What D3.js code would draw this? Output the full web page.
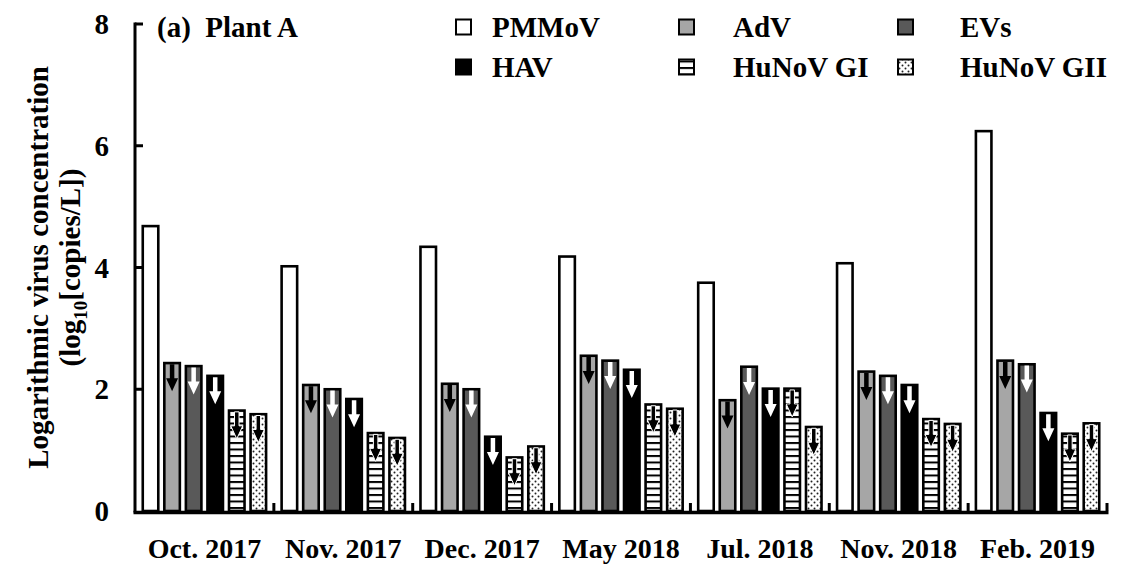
<!DOCTYPE html>
<html>
<head>
<meta charset="utf-8">
<script src="https://cdn.jsdelivr.net/npm/d3@7"></script>
<style>
  body { margin: 0; background: #fff; }
  text { font-family: "Liberation Serif", "Times New Roman", serif; font-weight: bold; fill: #000; }
</style>
</head>
<body>
<div id="chart"></div>
<script>
const categories = ['Oct. 2017', 'Nov. 2017', 'Dec. 2017', 'May 2018', 'Jul. 2018', 'Nov. 2018', 'Feb. 2019'];
const seriesNames = ['PMMoV', 'AdV', 'EVs', 'HAV', 'HuNoV GI', 'HuNoV GII'];
const pmmov = [4.68, 4.02, 4.34, 4.18, 3.75, 4.07, 6.24];
const adv = [2.43, 2.07, 2.09, 2.55, 1.82, 2.29, 2.47];
const evs = [2.38, 2.00, 2.00, 2.47, 2.37, 2.22, 2.41];
const hav = [2.22, 1.84, 1.22, 2.32, 2.01, 2.07, 1.61];
const hunovGI = [1.65, 1.28, 0.88, 1.75, 2.01, 1.51, 1.27];
const hunovGII = [1.59, 1.20, 1.06, 1.68, 1.38, 1.43, 1.44];
const yTicks = [0, 2, 4, 6, 8];
// series with a "below detection" arrow on top
const withArrow = [false, true, true, true, true, true];

const seriesValues = [pmmov, adv, evs, hav, hunovGI, hunovGII];

const width = 1123, height = 566;
const svg = d3.select('#chart').append('svg')
  .attr('width', width)
  .attr('height', height);

const defs = svg.append('defs');
const stripes = defs.append('pattern')
  .attr('id', 'stripes')
  .attr('patternUnits', 'userSpaceOnUse')
  .attr('width', 8).attr('height', 6.5);
stripes.append('rect').attr('width', 8).attr('height', 6.5).attr('fill', '#fff');
stripes.append('rect').attr('y', 0).attr('width', 8).attr('height', 2).attr('fill', '#000');

const dots = defs.append('pattern')
  .attr('id', 'dots')
  .attr('patternUnits', 'userSpaceOnUse')
  .attr('width', 6).attr('height', 6);
dots.append('rect').attr('width', 6).attr('height', 6).attr('fill', '#fff');
dots.append('circle').attr('cx', 1.5).attr('cy', 1.5).attr('r', 1).attr('fill', '#222');
dots.append('circle').attr('cx', 4.5).attr('cy', 4.5).attr('r', 1).attr('fill', '#222');

const fills = ['#ffffff', '#a6a6a6', '#595959', '#000000', 'url(#stripes)', 'url(#dots)'];
const arrowColor = ['none', '#000', '#fff', '#fff', '#000', '#000'];

const x0 = d3.scaleBand()
  .domain(categories)
  .range([135, 1107])
  .padding(0);
const x1 = d3.scaleBand()
  .domain(seriesNames)
  .range([0, x0.bandwidth()])
  .paddingInner(0.28)
  .paddingOuter(0.36);
const y = d3.scaleLinear()
  .domain([0, 8])
  .range([511, 24]);

// bars
const barData = [];
categories.forEach((cat, ci) => {
  seriesNames.forEach((s, si) => {
    barData.push({cat, s, si, v: seriesValues[si][ci]});
  });
});

const bars = svg.append('g').attr('class', 'bars');
bars.selectAll('.bar')
  .data(barData)
  .enter()
  .append('rect')
  .attr('class', 'bar')
  .attr('x', d => x0(d.cat) + x1(d.s))
  .attr('y', d => y(d.v))
  .attr('width', x1.bandwidth())
  .attr('height', d => y(0) - y(d.v))
  .attr('fill', d => fills[d.si])
  .attr('stroke', '#000')
  .attr('stroke-width', 2.6);

// arrows on top of bars
const arrowPath = (cx, top) => {
  const shaftW = 4.5, headW = 12, shaftL = 14, headL = 13;
  return `M${cx - shaftW / 2},${top} L${cx + shaftW / 2},${top} L${cx + shaftW / 2},${top + shaftL}` +
    ` L${cx + headW / 2},${top + shaftL} L${cx},${top + shaftL + headL} L${cx - headW / 2},${top + shaftL}` +
    ` L${cx - shaftW / 2},${top + shaftL} Z`;
};
bars.selectAll('.arrow')
  .data(barData.filter(d => withArrow[d.si]))
  .enter()
  .append('path')
  .attr('class', 'arrow')
  .attr('d', d => arrowPath(x0(d.cat) + x1(d.s) + x1.bandwidth() / 2, y(d.v) + 1.3))
  .attr('fill', d => arrowColor[d.si])
  .attr('stroke', d => d.si >= 4 ? '#fff' : 'none')
  .attr('stroke-width', 1);

// y axis
const yAxis = svg.append('g').attr('class', 'yAxis');
yAxis.append('line')
  .attr('x1', 135).attr('x2', 135)
  .attr('y1', y(8) - 1.5).attr('y2', y(0) + 1.5)
  .attr('stroke', '#000').attr('stroke-width', 3);
yAxis.selectAll('.ytick')
  .data(yTicks.filter(t => t > 0))
  .enter()
  .append('line')
  .attr('class', 'ytick')
  .attr('x1', 135).attr('x2', 143)
  .attr('y1', d => y(d)).attr('y2', d => y(d))
  .attr('stroke', '#000').attr('stroke-width', 3);
yAxis.selectAll('.ylabel')
  .data(yTicks)
  .enter()
  .append('text')
  .attr('class', 'ylabel')
  .attr('x', 109)
  .attr('y', d => y(d))
  .attr('dy', '0.35em')
  .attr('text-anchor', 'end')
  .style('font-size', '29px')
  .text(d => d);

// x axis
const xAxis = svg.append('g').attr('class', 'xAxis');
xAxis.append('line')
  .attr('x1', 133.5).attr('x2', 1108.5)
  .attr('y1', y(0) + 1.5).attr('y2', y(0) + 1.5)
  .attr('stroke', '#000').attr('stroke-width', 3.5);
xAxis.selectAll('.xtick')
  .data(categories)
  .enter()
  .append('line')
  .attr('class', 'xtick')
  .attr('x1', d => x0(d) + x0.bandwidth())
  .attr('x2', d => x0(d) + x0.bandwidth())
  .attr('y1', y(0))
  .attr('y2', y(0) - 8)
  .attr('stroke', '#000').attr('stroke-width', 3);
xAxis.selectAll('.xlabel')
  .data(categories)
  .enter()
  .append('text')
  .attr('class', 'xlabel')
  .attr('x', d => x0(d) + x0.bandwidth() / 2)
  .attr('y', 548)
  .attr('dy', '0.35em')
  .attr('text-anchor', 'middle')
  .style('font-size', '28px')
  .text(d => d);

// y title
const yTitle = svg.append('g')
  .attr('transform', `translate(0, ${(y(0) + y(8)) / 2}) rotate(-90)`);
yTitle.append('text')
  .attr('x', 0).attr('y', 38)
  .attr('dy', '0.35em')
  .attr('text-anchor', 'middle')
  .style('font-size', '29px')
  .text('Logarithmic virus concentration');
const sub = yTitle.append('text')
  .attr('x', 0).attr('y', 70)
  .attr('dy', '0.35em')
  .attr('text-anchor', 'middle')
  .style('font-size', '29px');
sub.append('tspan').text('(log');
sub.append('tspan').attr('dy', 7).style('font-size', '19px').text('10');
sub.append('tspan').attr('dy', -7).text('[copies/L])');

// panel label
svg.append('text')
  .attr('x', 157).attr('y', 27)
  .attr('dy', '0.35em')
  .style('font-size', '29px')
  .attr('xml:space', 'preserve')
  .text('(a)  Plant A');

// legend
const legendX = [456, 679, 898];
const legendTextX = [492, 733, 960];
const legendY = [27, 67];
const legend = svg.append('g').attr('class', 'legend');
const items = legend.selectAll('.legendItem')
  .data(seriesNames)
  .enter()
  .append('g')
  .attr('class', 'legendItem')
  .attr('transform', (d, i) => `translate(${legendX[i % 3]}, ${legendY[Math.floor(i / 3)]})`);
items.append('rect')
  .attr('x', 0).attr('y', -7.5)
  .attr('width', 15).attr('height', 15)
  .attr('fill', (d, i) => fills[i])
  .attr('stroke', '#000').attr('stroke-width', 2);
items.append('text')
  .attr('x', (d, i) => legendTextX[i % 3] - legendX[i % 3])
  .attr('y', 0)
  .attr('dy', '0.35em')
  .style('font-size', '29px')
  .text(d => d);
</script>
</body>
</html>
